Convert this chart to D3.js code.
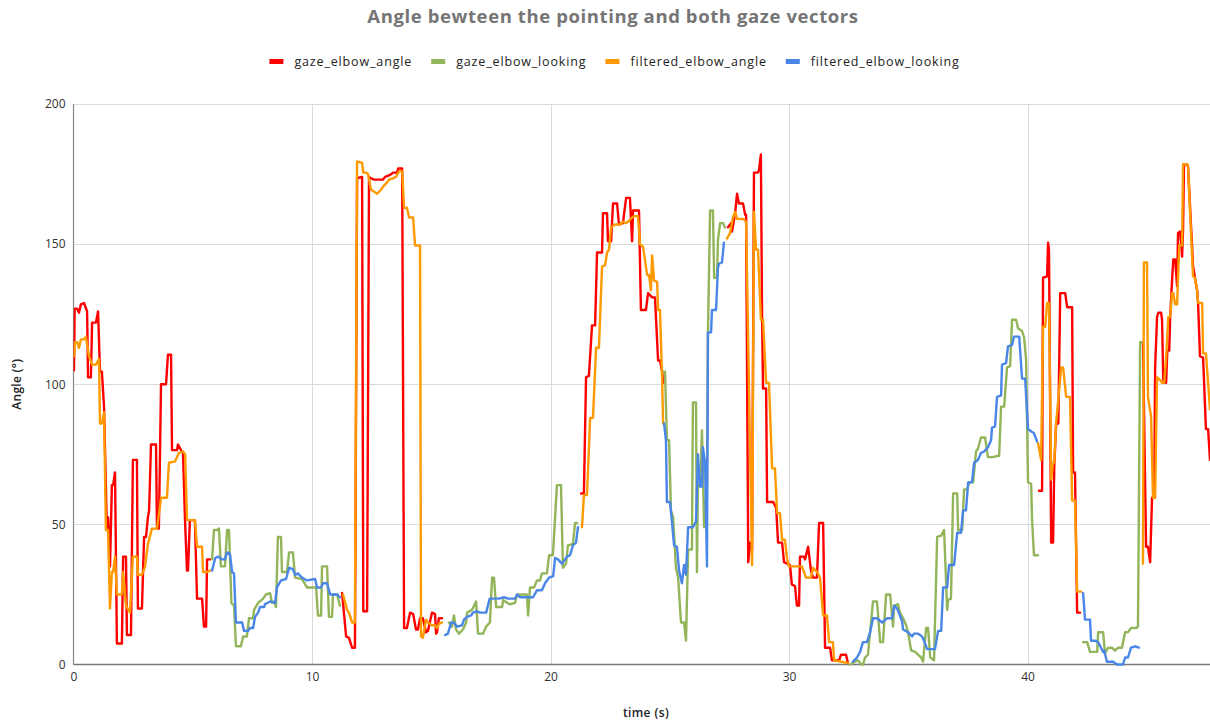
<!DOCTYPE html>
<html>
<head>
<meta charset="utf-8">
<script src="https://cdn.jsdelivr.net/npm/d3@7"></script>
<style>
  html, body { margin: 0; padding: 0; background: #ffffff; }
  svg { display: block; }
  text { font-family: "Open Sans", "DejaVu Sans", sans-serif; }
</style>
</head>
<body>
<svg id="chart" width="1210" height="722"></svg>
<script>
// ---------------- DATA ----------------
const chartTitle = "Angle bewteen the pointing and both gaze vectors";
const xAxisTitle = "time (s)";
const yAxisTitle = "Angle (°)";
const seriesNames = ["gaze_elbow_angle", "gaze_elbow_looking", "filtered_elbow_angle", "filtered_elbow_looking"];
const xTicks = [0, 10, 20, 30, 40];
const yTicks = [0, 50, 100, 150, 200];
const xMax = 47.65;
const yMax = 200;

// [time (s), angle (°)]; null marks a gap in the series
const gazeElbowAngle = [
  [0.02,105],[0.05,127],[0.15,127],[0.23,125.5],[0.31,128.5],[0.44,129],[0.57,126],[0.61,102.5],[0.73,102.5],
  [0.78,122],[0.94,122],[1.03,126],[1.11,104.5],[1.19,104.5],[1.28,92],[1.40,48],[1.45,52.5],[1.53,35],
  [1.61,64],[1.66,64],[1.74,68.5],[1.82,7.5],[2.03,7.5],[2.08,38.5],[2.20,38.5],[2.24,10.5],[2.41,10.5],
  [2.49,73],[2.66,73],[2.70,20],[2.87,20],[2.96,45.5],[3.04,45.5],[3.12,52.5],[3.17,55],[3.25,78.5],
  [3.46,78.5],[3.50,48.5],[3.58,48.5],[3.67,100],[3.88,100],[3.96,110.5],[4.09,110.5],[4.13,76.5],
  [4.34,76.5],[4.38,78.5],[4.51,76.5],[4.59,75.5],[4.68,50.5],[4.76,33.5],[4.80,33.5],[4.88,51.5],
  [5.09,51.5],[5.18,23.5],[5.39,23.5],[5.47,13.5],[5.56,13.5],[5.60,37.5],[5.72,37.5],
  null,
  [11.26,25.5],[11.30,22],[11.43,10],[11.55,9.5],[11.68,6],[11.80,6],[11.89,173.5],[12.10,174],[12.15,19],
  [12.31,19],[12.39,174],[12.47,173.5],[12.60,173],[12.98,173],[13.06,174],[13.23,174.5],[13.40,175.5],
  [13.57,175.5],[13.61,177],[13.78,177],[13.86,13],[13.98,13],[14.11,18.5],[14.24,18],[14.36,12.5],
  [14.44,12.5],[14.53,16.5],[14.65,16.5],[14.78,11.5],[14.86,12],[15.03,18.5],[15.16,18],[15.20,11],
  [15.24,11.5],[15.32,16.5],[15.45,16.5],
  null,
  [21.28,61],[21.40,61],[21.49,102.5],[21.61,103],[21.74,121],[21.87,121],[21.95,147],[22.16,147],
  [22.20,161],[22.37,161],[22.41,151],[22.54,151],[22.62,164.5],[22.79,164.5],[22.87,157],[23.04,157.5],
  [23.08,160.5],[23.17,166.5],[23.33,166.5],[23.42,151],[23.46,162],[23.71,162],[23.79,126.5],[24.00,126.5],
  [24.09,132.5],[24.26,131],[24.38,131],[24.51,108.5],[24.59,108.5],[24.68,104.5],[24.72,100.5],
  null,
  [27.44,156],[27.57,157.5],[27.61,154.5],[27.74,161],[27.82,168],[27.90,164.5],[28.07,164.5],[28.16,160.5],
  [28.20,160.5],[28.29,36.5],[28.37,43.5],[28.45,41],[28.53,175.5],[28.70,175.5],[28.74,176.5],[28.82,182],
  [28.87,124],[28.91,98.5],[29.04,98.5],[29.08,58],[29.33,58],[29.46,56],[29.54,43.5],[29.71,43.5],
  [29.79,36.5],[30.04,35.5],[30.12,28.5],[30.25,28],[30.33,21],[30.42,21],[30.46,38.5],[30.63,38.5],
  [30.67,37.5],[30.80,42],[30.92,33.5],[31.01,31],[31.17,31],[31.26,50.5],[31.43,50.5],[31.51,6],
  [31.72,6],[31.80,1.5],[32.10,1.5],[32.18,3.5],[32.39,3.5],[32.47,0.5],
  null,
  [40.48,62],[40.61,62],[40.65,138],[40.82,138.5],[40.86,150.5],[40.90,148],[40.99,43.5],[41.07,43.5],
  [41.12,70.5],[41.20,86],[41.29,86],[41.37,132.5],[41.58,132.5],[41.66,127.5],[41.87,127.5],[41.91,68.5],
  [41.99,68.5],[42.08,18.5],[42.20,18.5],
  null,
  [44.84,115],[44.97,42],[45.05,42],[45.14,36.5],[45.22,59.5],[45.31,59.5],[45.35,106],[45.43,124],
  [45.48,125.5],[45.60,125.5],[45.64,123],[45.69,101.5],[45.81,100.5],[45.86,112],[45.94,112],[45.98,124],
  [46.06,137],[46.11,144.5],[46.19,144.5],[46.27,135],[46.31,154],[46.40,154.5],[46.48,145.5],[46.52,155],
  [46.56,178.5],[46.69,178.5],[46.73,177.5],[46.90,149],[46.94,142],[47.11,133.5],[47.15,129],[47.23,110],
  [47.36,109.5],[47.48,84],[47.57,84],[47.65,73]
];

const gazeElbowLooking = [
  [5.81,37.5],[5.89,48],[6.02,48],[6.10,48.5],[6.18,35],[6.35,35],[6.44,48],[6.52,48],[6.62,22],[6.73,21],
  [6.81,6.5],[7.02,6.5],[7.11,10],[7.27,10],[7.36,16.5],[7.53,16.5],[7.57,19.5],[7.74,22],[7.95,23.5],
  [8.07,25],[8.24,25.5],[8.32,22],[8.41,22.5],[8.49,20.5],[8.57,45.5],[8.70,45.5],[8.74,33],[8.95,33],
  [9.04,40],[9.20,40],[9.29,31],[9.58,30.5],[9.79,27.5],[10.17,27.5],[10.25,17.5],[10.38,17.5],
  [10.42,35],[10.63,35],[10.71,17],[10.84,17],[10.88,25],[11.05,25],[11.17,21],
  null,
  [15.74,15],[15.87,13.5],[15.95,17.5],[16.04,12.5],[16.16,11],[16.33,12.5],[16.46,15],[16.50,18.5],
  [16.71,19.5],[16.88,22.5],[16.96,11],[17.17,11],[17.30,13.5],[17.46,15],[17.55,31],[17.63,31],
  [17.72,20.5],[17.97,20.5],[18.01,23],[18.18,22],[18.30,21.5],[18.51,22],[18.60,25],[19.01,25],
  [19.06,17.5],[19.14,27.5],[19.31,27.5],[19.43,30],[19.56,30],[19.64,32.5],[19.85,32.5],[19.94,39],
  [20.10,39],[20.27,64],[20.44,64],[20.52,34.5],[20.65,36],[20.73,42.5],[20.94,43],[21.03,50.5],[21.11,50.5],
  null,
  [24.72,104.5],[24.80,104.5],[24.88,80],[24.97,80],[25.05,55],[25.14,52.5],[25.26,34.5],[25.35,31],
  [25.47,15],[25.60,15],[25.68,8.5],[25.77,41],[25.93,41],[25.97,93.5],[26.10,93.5],[26.14,33],[26.18,65],
  [26.27,63.5],[26.35,83.5],[26.44,49],[26.56,64],[26.60,118],[26.69,162],[26.81,162],[26.86,138],
  [26.98,138],[27.02,151.5],[27.11,157.5],[27.23,157.5],[27.31,156],
  null,
  [32.56,0],[32.77,1],[32.89,1.5],[33.02,0],[33.10,0],[33.19,2.5],[33.31,3.5],[33.52,22.5],[33.69,22.5],
  [33.82,8],[33.94,8],[34.07,25],[34.24,25],[34.36,13.5],[34.41,21],[34.57,21.5],[34.65,18.5],[34.78,16.5],
  [34.91,14],[34.99,11.5],[35.12,5],[35.29,4.5],[35.41,3.5],[35.54,2.5],[35.62,1],[35.75,13],[35.83,13],
  [35.92,2.5],[36.08,1.5],[36.21,45.5],[36.38,46],[36.50,48],[36.63,19.5],[36.67,23],[36.79,23.5],
  [36.88,61],[37.05,61],[37.09,48],[37.26,48],[37.34,62.5],[37.47,62.5],[37.55,65],[37.72,65],[37.84,76],
  [37.92,77],[38.05,81],[38.22,81],[38.34,74],[38.51,74],[38.81,74.5],[38.89,92],[39.02,92],[39.14,106],
  [39.27,106.5],[39.35,123],[39.52,123],[39.60,120],[39.77,119],[39.86,116.5],[39.94,108.5],[40.02,65],
  [40.15,64.5],[40.19,51.5],[40.27,39],[40.44,39],
  null,
  [42.33,8],[42.50,8],[42.62,4.5],[42.92,4.5],[42.96,11.5],[43.17,11.5],[43.25,4],[43.38,6],[43.54,6],
  [43.67,5],[43.80,6],[43.96,6],[44.09,11.5],[44.21,11.5],[44.34,13],[44.55,13],[44.63,13.5],[44.72,115],
  [44.80,115]
];

const filteredElbowAngle = [
  [0.02,110],[0.06,115],[0.15,115],[0.23,113],[0.31,116],[0.44,116],[0.52,117],[0.65,110],[0.78,107],
  [0.94,107],[1.07,109],[1.11,86],[1.19,86],[1.28,90],[1.36,48],[1.45,48],[1.53,20],[1.61,33],[1.66,33],
  [1.74,38.5],[1.82,25],[2.03,25],[2.08,33],[2.20,21],[2.37,18.5],[2.49,38.5],[2.66,38.5],[2.70,32],
  [2.87,32],[3.00,35],[3.12,43],[3.29,48.5],[3.50,48.5],[3.67,59.5],[3.92,59.5],[4.00,72],[4.26,72.5],
  [4.42,75.5],[4.59,76],[4.68,75],[4.76,51.5],[5.09,51.5],[5.18,42],[5.39,42],[5.43,33],[5.60,33],[5.72,33.5],
  null,
  [11.30,25],[11.47,19.5],[11.55,18.5],[11.68,15],[11.80,15],[11.89,179.5],[12.10,179],[12.15,175.5],
  [12.27,175.5],[12.35,175],[12.47,169.5],[12.73,168],[12.90,169.5],[12.98,170.5],[13.14,172],[13.23,173],
  [13.40,173.5],[13.52,174],[13.65,176],[13.78,176],[13.86,163],[13.98,163],[14.07,159.5],[14.24,159.5],
  [14.32,149.5],[14.53,149.5],[14.57,10],[14.65,9.5],[14.78,16],[14.86,15],[15.03,14],[15.16,14],
  [15.24,13],[15.32,14.5],[15.45,15],
  null,
  [21.32,49],[21.40,60.5],[21.53,60.5],[21.66,88],[21.78,88],[21.91,113],[22.03,113],[22.16,142],
  [22.29,142.5],[22.37,147],[22.45,148],[22.54,156],[22.70,157],[22.91,157],[23.04,158],[23.17,157.5],
  [23.25,158],[23.42,159.5],[23.50,160],[23.67,160],[23.75,150],[23.88,149],[24.05,139],[24.13,139],
  [24.21,133.5],[24.26,146],[24.34,137],[24.47,136.5],[24.51,126.5],[24.59,126.5],[24.68,101.5],[24.72,86],
  null,
  [27.40,152],[27.53,154],[27.65,159.5],[27.74,161.5],[27.82,159],[28.07,159],[28.20,158],[28.45,35.5],
  [28.53,161.5],[28.62,148],[28.70,148],[28.82,123],[28.91,123],[29.04,100.5],[29.16,100.5],[29.29,70],
  [29.41,70],[29.50,54],[29.62,54],[29.71,44.5],[29.83,44.5],[29.92,37.5],[30.00,35],[30.54,35],[30.71,31],
  [30.92,31],[31.01,34.5],[31.17,33],[31.30,31],[31.43,17.5],[31.59,17.5],[31.68,8],[31.84,8],[31.89,1.5],
  [32.47,0.5],
  null,
  [40.44,79],[40.57,73],[40.65,120.5],[40.74,120.5],[40.82,129],[40.90,129],[40.99,66],[41.07,72],
  [41.12,72],[41.20,86.5],[41.29,94.5],[41.41,106],[41.49,106],[41.62,95.5],[41.78,95.5],[41.87,58.5],
  [41.99,58.5],[42.08,26],[42.24,26],
  null,
  [44.84,36],[44.88,143.5],[45.01,143.5],[45.05,95.5],[45.18,88.5],[45.26,59.5],[45.35,59.5],[45.43,102.5],
  [45.56,101.5],[45.64,100.5],[45.73,100.5],[45.81,109.5],[45.90,124],[45.98,124],[46.06,132.5],
  [46.11,132.5],[46.19,128.5],[46.27,128.5],[46.36,149.5],[46.48,149.5],[46.52,178.5],[46.69,178.5],
  [46.73,177.5],[46.81,162],[46.94,138.5],[47.02,138],[47.11,133.5],[47.15,129],[47.32,129],[47.36,111],
  [47.48,111],[47.57,100.5],[47.65,91]
];

const filteredElbowLooking = [
  [5.81,33.5],[5.94,38],[6.06,38.5],[6.23,37.5],[6.35,37.5],[6.44,40],[6.56,39.5],[6.65,33],[6.73,32.5],
  [6.81,15],[7.07,15],[7.15,12],[7.32,12],[7.40,13],[7.53,13],[7.61,17],[7.74,18.5],[7.82,20.5],[7.99,20.5],
  [8.03,21.5],[8.24,22.5],[8.45,22],[8.53,27.5],[8.70,30],[8.91,30.5],[9.04,34.5],[9.20,34],[9.29,32],
  [9.41,32.5],[9.58,31],[9.79,30],[10.13,30.5],[10.21,27.5],[10.38,27.5],[10.46,29],[10.63,29],[10.76,25],
  [11.05,25],[11.17,24],
  null,
  [15.58,10.5],[15.70,11],[15.83,15],[15.95,15],[16.08,13.5],[16.29,14],[16.37,16],[16.50,17],[16.67,17.5],
  [16.75,18.5],[16.92,19],[17.04,18.5],[17.30,18.5],[17.45,23.5],[17.84,23.5],[18.05,24],[18.22,23.5],
  [18.51,23.5],[18.60,25],[18.72,24],[19.27,24],[19.43,26.5],[19.64,26.5],[19.77,29],[19.94,31],
  [20.11,31.5],[20.19,38],[20.31,37.5],[20.48,36],[20.61,37.5],[20.69,38.5],[20.82,39],[20.94,42.5],
  [21.07,43.5],[21.15,49],
  null,
  [24.76,86],[24.84,80],[24.88,58],[25.01,58],[25.09,51],[25.18,42.5],[25.30,42],[25.39,33.5],[25.51,29],
  [25.60,35.5],[25.68,32],[25.77,49],[25.97,49],[26.10,51],[26.18,75],[26.27,63.5],[26.35,63.5],
  [26.39,77.5],[26.48,72],[26.56,35],[26.60,118.5],[26.73,118.5],[26.77,126.5],[26.94,126.5],
  [27.02,141.5],[27.06,143],[27.19,143.5],[27.27,150.5],
  null,
  [32.68,1],[32.85,2.5],[32.98,4.5],[33.10,8],[33.27,8],[33.40,11.5],[33.52,16.5],[33.69,16.5],[33.90,15],
  [34.11,16.5],[34.32,16.5],[34.41,21],[34.53,20],[34.65,17.5],[34.74,15.5],[34.78,12.5],[34.99,11.5],
  [35.16,10],[35.24,11],[35.41,11],[35.58,10],[35.66,8.5],[35.79,5.5],[36.12,5.5],[36.25,12],[36.38,12],
  [36.46,27.5],[36.63,27.5],[36.71,35.5],[36.92,35.5],[37.05,47],[37.21,47],[37.30,55],[37.42,55],
  [37.51,65],[37.67,65],[37.76,72],[37.92,73],[38.05,75.5],[38.18,76],[38.34,77.5],[38.47,80],[38.51,84.5],
  [38.64,85],[38.72,95.5],[38.89,96],[38.93,107],[39.10,107.5],[39.18,113.5],[39.35,114],[39.43,117],
  [39.65,117],[39.77,102],[39.90,102],[40.02,84],[40.19,83],[40.27,82.5],[40.40,79.5],
  null,
  [42.33,25.5],[42.41,16],[42.62,16],[42.66,8.5],[42.83,8.5],[42.96,8],[43.08,6],[43.17,4.5],[43.21,5],
  [43.33,1],[43.59,1],[43.75,0],[44.00,0],[44.09,2.5],[44.21,2.5],[44.34,6],[44.51,6.5],[44.67,6]
];

const seriesData = [gazeElbowAngle, gazeElbowLooking, filteredElbowAngle, filteredElbowLooking];
const seriesColors = ["#ff0000", "#93b55a", "#ff9900", "#4a86e8"];

// ---------------- LAYOUT ----------------
const W = 1210, H = 722;
const plot = { left: 73.5, right: 1210, top: 104, bottom: 664.5 };

const svg = d3.select("#chart");

const x = d3.scaleLinear().domain([0, xMax]).range([plot.left, plot.right]);
const y = d3.scaleLinear().domain([0, yMax]).range([plot.bottom, plot.top]);

// Title
svg.append("text")
  .attr("x", 613).attr("y", 23)
  .attr("text-anchor", "middle")
  .attr("font-size", 18.5).attr("font-weight", 700)
  .attr("letter-spacing", 0.6)
  .attr("fill", "#757575")
  .text(chartTitle);

// Gridlines
const grid = svg.append("g");
grid.selectAll("line.h").data(yTicks.filter(d => d > 0)).join("line")
  .attr("x1", plot.left).attr("x2", plot.right)
  .attr("y1", d => Math.round(y(d)) + 0.5).attr("y2", d => Math.round(y(d)) + 0.5)
  .attr("stroke", "#d9d9d9").attr("stroke-width", 1);
grid.selectAll("line.v").data(xTicks.filter(d => d > 0)).join("line")
  .attr("y1", plot.top).attr("y2", plot.bottom)
  .attr("x1", d => Math.round(x(d)) + 0.5).attr("x2", d => Math.round(x(d)) + 0.5)
  .attr("stroke", "#d9d9d9").attr("stroke-width", 1);

// Axes
const yAxis = svg.append("g")
  .attr("transform", `translate(${plot.left},0)`)
  .call(d3.axisLeft(y).tickValues(yTicks).tickSize(0).tickPadding(8));
yAxis.select(".domain").remove();
yAxis.selectAll("text").attr("font-size", 12).attr("fill", "#333").attr("font-family", '"Open Sans", sans-serif');

const xAxis = svg.append("g")
  .attr("transform", `translate(0,${plot.bottom})`)
  .call(d3.axisBottom(x).tickValues(xTicks).tickSize(0).tickPadding(8).tickFormat(d3.format("d")));
xAxis.select(".domain").remove();
xAxis.selectAll("text").attr("font-size", 12).attr("fill", "#333").attr("font-family", '"Open Sans", sans-serif');

// Axis lines
svg.append("line")
  .attr("x1", plot.left).attr("x2", plot.left)
  .attr("y1", plot.top).attr("y2", plot.bottom)
  .attr("stroke", "#888").attr("stroke-width", 1.2);
svg.append("line")
  .attr("x1", plot.left).attr("x2", plot.right)
  .attr("y1", plot.bottom).attr("y2", plot.bottom)
  .attr("stroke", "#777").attr("stroke-width", 1.5);

// Axis titles
svg.append("text")
  .attr("transform", `translate(21,${(plot.top + plot.bottom) / 2}) rotate(-90)`)
  .attr("text-anchor", "middle")
  .attr("font-size", 12).attr("font-weight", 600).attr("letter-spacing", 0.3).attr("fill", "#222")
  .text(yAxisTitle);
svg.append("text")
  .attr("x", 646).attr("y", 717)
  .attr("text-anchor", "middle")
  .attr("font-size", 12).attr("font-weight", 600).attr("letter-spacing", 0.4).attr("fill", "#222")
  .text(xAxisTitle);

// Lines
svg.append("clipPath").attr("id", "plotclip")
  .append("rect")
  .attr("x", plot.left).attr("y", plot.top - 20)
  .attr("width", plot.right - plot.left).attr("height", plot.bottom - plot.top + 22);

const line = d3.line()
  .defined(d => d !== null)
  .x(d => x(d[0]))
  .y(d => y(d[1]));

const linesG = svg.append("g").attr("clip-path", "url(#plotclip)");
seriesData.forEach((data, i) => {
  linesG.append("path")
    .datum(data)
    .attr("fill", "none")
    .attr("stroke", seriesColors[i])
    .attr("stroke-width", 2.4)
    .attr("stroke-linejoin", "round")
    .attr("stroke-linecap", "round")
    .attr("d", line);
});

// Legend
const legend = svg.append("g");
const legendItems = legend.selectAll("g").data(seriesNames).join("g");
legendItems.append("rect")
  .attr("width", 14).attr("height", 5).attr("y", -3)
  .attr("fill", (d, i) => seriesColors[i]);
legendItems.append("text")
  .attr("x", 25).attr("y", 0).attr("dy", "0.35em")
  .attr("font-size", 12.5).attr("letter-spacing", 0.85).attr("fill", "#222")
  .text(d => d);
let cx = 0;
const positions = [];
legendItems.each(function () {
  const w = this.querySelector("text").getComputedTextLength();
  positions.push(cx);
  cx += 25 + w + 19;
});
const totalW = cx - 19;
const startX = 614.5 - totalW / 2;
legendItems.attr("transform", (d, i) => `translate(${startX + positions[i]},62)`);
</script>
</body>
</html>
